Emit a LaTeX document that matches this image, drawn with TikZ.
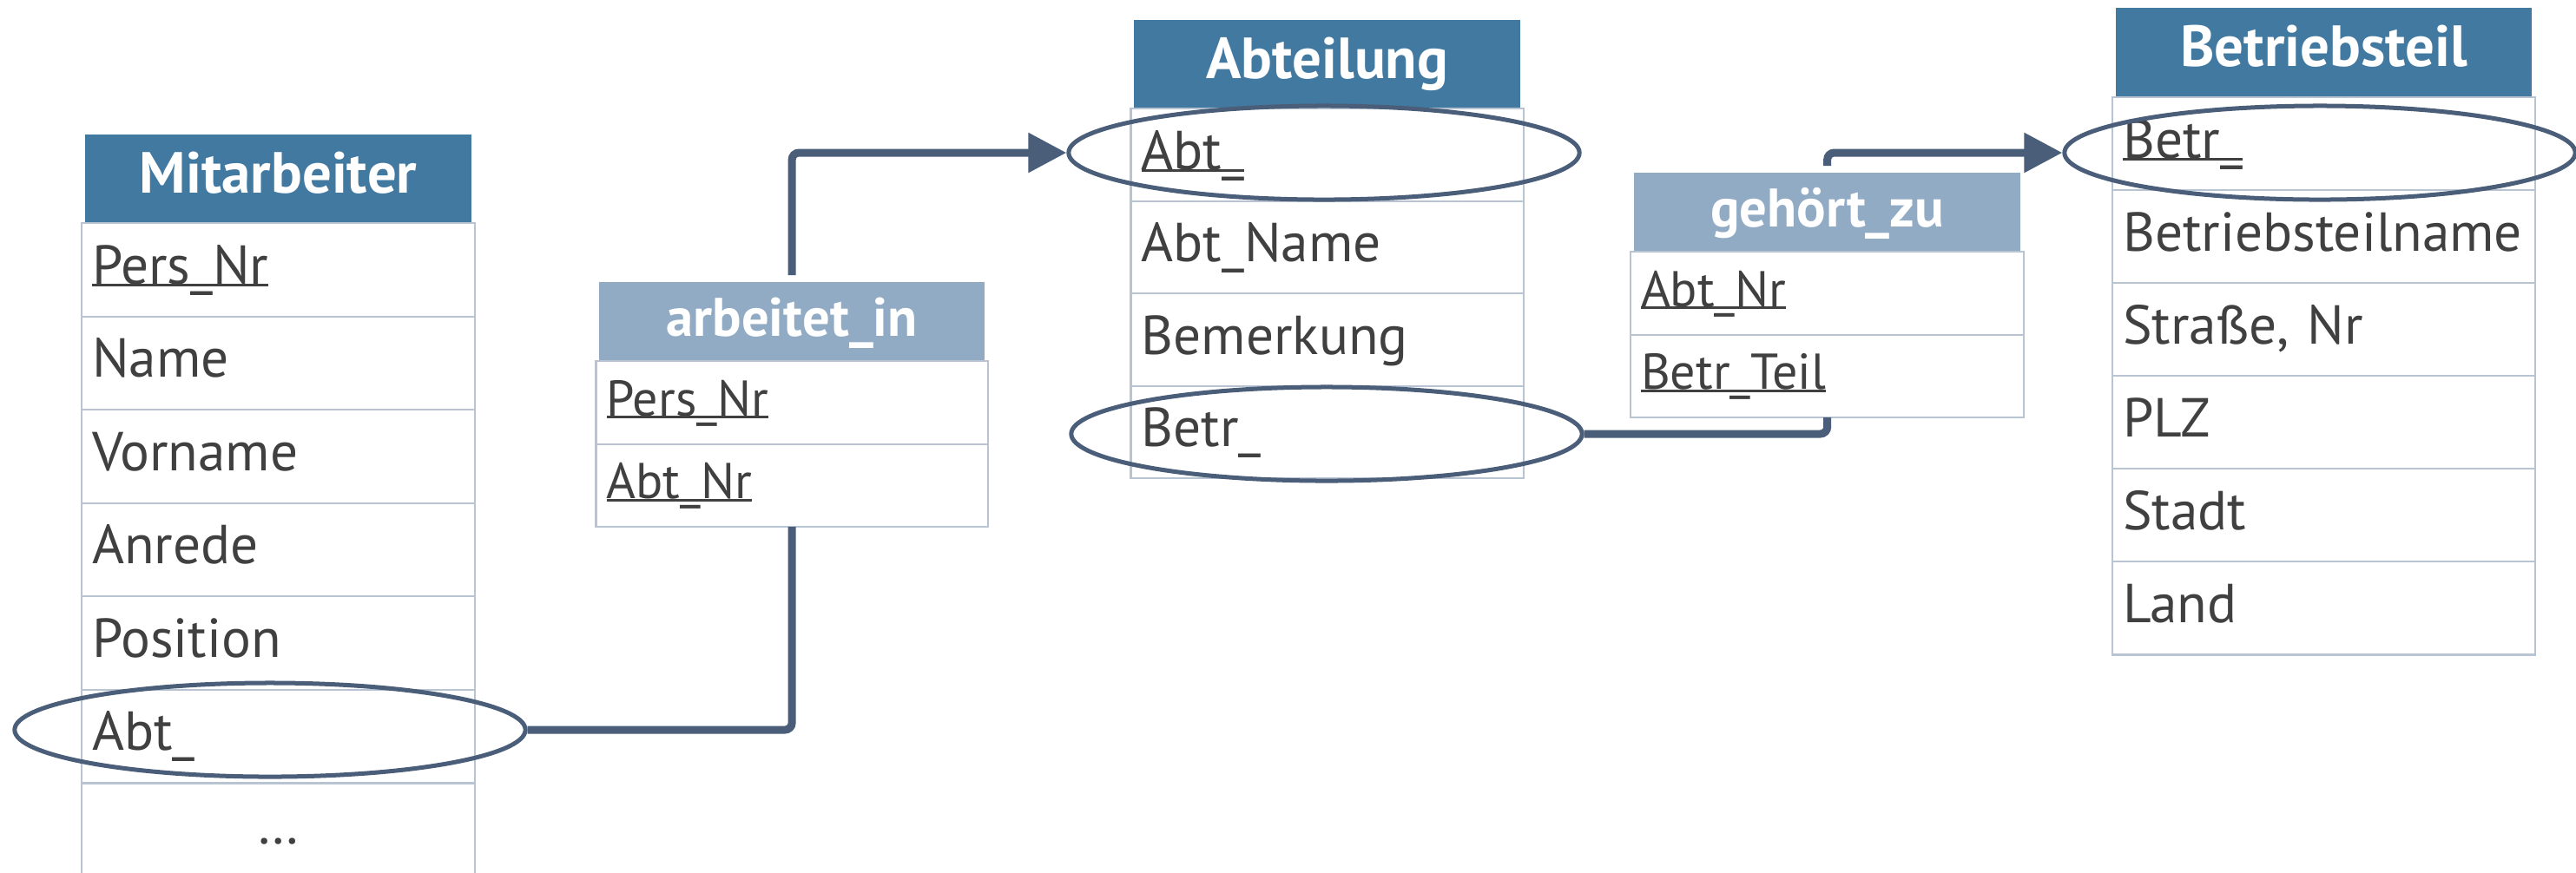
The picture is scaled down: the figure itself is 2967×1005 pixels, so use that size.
\documentclass[tikz,border=0pt]{standalone}
\usepackage{fontspec}
\setmainfont{PT Sans}
\usetikzlibrary{arrows.meta,calc,shapes.geometric}

\definecolor{entblue}{RGB}{66,121,161}
\definecolor{relblue}{RGB}{146,171,197}
\definecolor{linkcol}{RGB}{74,94,121}
\definecolor{gridcol}{RGB}{184,196,210}
\definecolor{txtcol}{RGB}{64,64,64}

% key attribute: text with a rule just under the baseline
\newsavebox\keybox
\newcommand\keyattr[1]{\sbox\keybox{#1}\rlap{\rule[-0.9pt]{\wd\keybox}{0.8pt}}\usebox\keybox}

\begin{document}
\begin{tikzpicture}[x=0.01cm, y=-0.01cm,
  ehead/.style={fill=entblue, text=white, inner sep=0, outer sep=0, minimum width=#1,
    font=\fontsize{19}{21}\selectfont\bfseries, text height=0.67cm, text depth=0.35cm},
  rhead/.style={fill=relblue, text=white, inner sep=0, outer sep=0, minimum width=#1,
    font=\fontsize{17.8}{20}\selectfont\bfseries, text height=0.62cm, text depth=0.29cm},
  erow/.style={draw=gridcol, line width=0.6pt, inner xsep=0.12cm, inner ysep=0, outer sep=0,
    text width=#1, align=left, text=txtcol, anchor=north,
    font=\fontsize{18}{20}\selectfont, text height=0.70cm, text depth=0.375cm},
  rrow/.style={draw=gridcol, line width=0.6pt, inner xsep=0.12cm, inner ysep=0, outer sep=0,
    text width=#1, align=left, text=txtcol, anchor=north,
    font=\fontsize{16.5}{19}\selectfont, text height=0.63cm, text depth=0.325cm},
  keyring/.style={ellipse, draw=linkcol, line width=0.05cm, minimum width=5.88cm,
    minimum height=1.08cm, inner sep=0},
  link/.style={draw=linkcol, line width=0.09cm, rounded corners=0.08cm},
  linktip/.style={-{Triangle[length=0.44cm, width=0.44cm]}}
]
\useasboundingbox (0,0) rectangle (2967,1005);

% Mitarbeiter
\node[ehead=4.45cm, anchor=north west] (mh) at (98,155) {Mitarbeiter};
\node[erow=4.29cm] (m1) at (mh.south) {\keyattr{Pers\_Nr}};
\node[erow=4.29cm] (m2) at (m1.south) {Name};
\node[erow=4.29cm] (m3) at (m2.south) {Vorname};
\node[erow=4.29cm] (m4) at (m3.south) {Anrede};
\node[erow=4.29cm] (m5) at (m4.south) {Position};
\node[erow=4.29cm] (m6) at (m5.south) {Abt\_};
\node[erow=4.29cm, align=center] (m7) at (m6.south) {\ldots};

% arbeitet_in
\node[rhead=4.44cm, anchor=north west] (aih) at (690,325) {arbeitet\_in};
\node[rrow=4.27cm] (ai1) at (aih.south) {\keyattr{Pers\_Nr}};
\node[rrow=4.27cm] (ai2) at (ai1.south) {\keyattr{Abt\_Nr}};

% Abteilung
\node[ehead=4.45cm, anchor=north west] (ah) at (1306,23) {Abteilung};
\node[erow=4.28cm, text depth=0.365cm] (a1) at (ah.south) {\keyattr{Abt\_}};
\node[erow=4.28cm, text depth=0.365cm] (a2) at (a1.south) {Abt\_Name};
\node[erow=4.28cm, text depth=0.365cm] (a3) at (a2.south) {Bemerkung};
\node[erow=4.28cm, text depth=0.365cm] (a4) at (a3.south) {Betr\_};

% gehört_zu
\node[rhead=4.45cm, anchor=north west] (gzh) at (1882,199) {gehört\_zu};
\node[rrow=4.29cm] (gz1) at (gzh.south) {\keyattr{Abt\_Nr}};
\node[rrow=4.29cm] (gz2) at (gz1.south) {\keyattr{Betr\_Teil}};

% Betriebsteil
\node[ehead=4.79cm, anchor=north west, text depth=0.36cm] (bh) at (2437,9) {Betriebsteil};
\node[erow=4.63cm, text depth=0.37cm] (b1) at (bh.south) {\keyattr{Betr\_}};
\node[erow=4.63cm, text depth=0.37cm] (b2) at (b1.south) {Betriebsteilname};
\node[erow=4.63cm, text depth=0.37cm] (b3) at (b2.south) {Straße, Nr};
\node[erow=4.63cm, text depth=0.37cm] (b4) at (b3.south) {PLZ};
\node[erow=4.63cm, text depth=0.37cm] (b5) at (b4.south) {Stadt};
\node[erow=4.63cm, text depth=0.37cm] (b6) at (b5.south) {Land};

% rings around the linked attributes
\node[keyring] (E1) at (311,841) {};
\node[keyring] (E2) at (1525,176) {};
\node[keyring] (E3) at (1528,500) {};
\node[keyring] (E4) at (2672,176) {};

% links through the relationship tables
\draw[link] (E1.east) -| (ai2.south);
\draw[link, linktip] ([yshift=0.08cm]aih.north) |- (E2.west);
\draw[link] (E3.east) -| (gz2.south);
\draw[link, linktip] ([yshift=0.08cm]gzh.north) |- (E4.west);
\end{tikzpicture}
\end{document}
